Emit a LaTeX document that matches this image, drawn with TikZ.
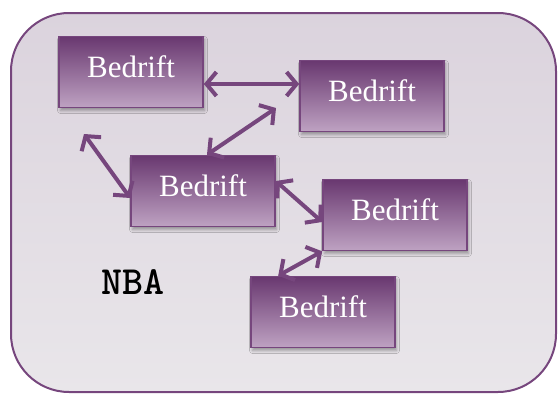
\documentclass[tikz,border=0pt]{standalone}
\usepackage{fontspec}
\setmainfont{Liberation Serif}
\usetikzlibrary{arrows.meta,shadows.blur,calc}
\definecolor{plum}{HTML}{76467D}
\definecolor{plumdark}{HTML}{693870}
\definecolor{plumlight}{HTML}{BEA2C2}
\definecolor{paneltop}{HTML}{DBD3DD}
\definecolor{panelbottom}{HTML}{E9E6EA}

\tikzset{
  firm/.style={rectangle, draw=plum, line width=1.6pt,
    minimum width=144pt, minimum height=71pt,
    top color=plumdark, bottom color=plumlight,
    text=white, font=\fontsize{31}{31}\selectfont,
    text height=22pt, text depth=12pt,
    blur shadow={shadow xshift=1.5pt, shadow yshift=-3pt,
      shadow blur radius=3pt, shadow opacity=35}},
  link/.style={draw=plum, line width=4pt,
    {Straight Barb[length=10pt,width=24pt]}-{Straight Barb[length=10pt,width=24pt]}},
  panel/.style={draw=plum, line width=2pt, rounded corners=58pt,
    top color=paneltop, bottom color=panelbottom},
  tag/.style={font=\ttfamily\bfseries\fontsize{40}{40}\selectfont, text=black}
}

\begin{document}
\begin{tikzpicture}[x=1pt,y=-1pt]
  \useasboundingbox (0,0) rectangle (558,394);

  % the surrounding organisation
  \path[panel] (11,13) rectangle (556,392);

  % the companies
  \node[firm] (b1) at (131,72)  {Bedrift};
  \node[firm] (b2) at (372,96)  {Bedrift};
  \node[firm] (b3) at (203,191) {Bedrift};
  \node[firm] (b4) at (395,215) {Bedrift};
  \node[firm] (b5) at (323,312) {Bedrift};

  \node[tag, anchor=base] (nba) at (133,294) {NBA};

  % loose ends of the links
  \coordinate (n1) at (84,134);
  \coordinate (n2) at (276,108);

  % links between the companies
  \draw[link] ($(b1.east)+(0,12)$) -- ($(b2.west)+(0,-12)$);
  \draw[link] ($(b3.north)+(4,0)$) -- (n2);
  \draw[link] (n1) -- ($(b3.west)+(0,7)$);
  \draw[link] ($(b3.east)+(0,-10)$) -- ($(b4.west)+(0,7)$);
  \draw[link] (b4.south west) -- ($(b5.north west)+(28,0)$);
\end{tikzpicture}
\end{document}
